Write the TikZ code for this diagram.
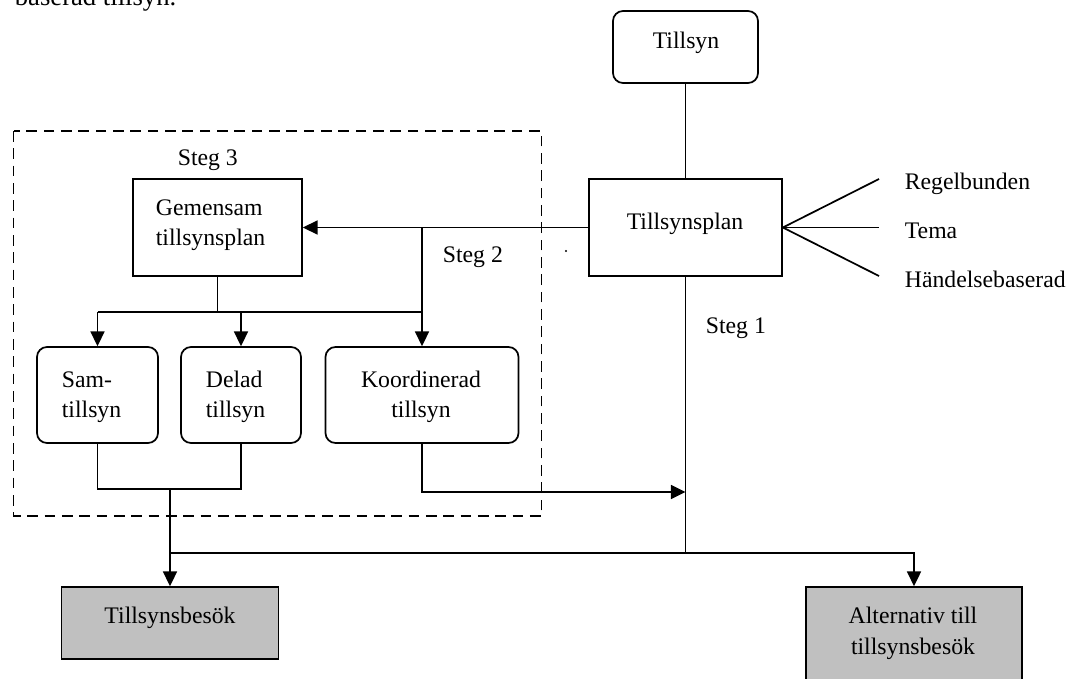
\documentclass[tikz,border=0pt]{standalone}
\usepackage{fontspec}
\setmainfont{Liberation Serif}
\usetikzlibrary{arrows.meta}
\definecolor{boxgray}{HTML}{C0C0C0}
\begin{document}
\begin{tikzpicture}[x=0.75pt,y=-0.75pt,
  line width=1.3pt,
  txt/.style={font=\fontsize{17.8}{22}\selectfont, inner sep=0pt, anchor=base},
  txtl/.style={txt, anchor=base west},
  sqbox/.style={draw, rectangle, inner sep=0pt, fill=white},
  rbox/.style={sqbox, rounded corners=7.5pt},
  gbox/.style={sqbox, fill=boxgray},
  arr/.style={-{Triangle[length=11pt,width=10.5pt]}},
  frame/.style={dashed, dash pattern=on 8pt off 5pt, line width=1.3pt}]
\useasboundingbox (0,0) rectangle (1074,678);

% caption line running off the top edge
\node[txtl, font=\fontsize{20}{24}\selectfont] (caption) at (14,5) {baserad tillsyn.};

% dashed frame around the joint planning steps
\draw[frame] (13.5,131) rectangle (541.5,516);

% boxes
\node[rbox, minimum width=108.75pt, minimum height=54pt] (tillsyn) at (685.5,47) {};
\node[sqbox, minimum width=144.75pt, minimum height=72.75pt] (plan) at (685.5,227.5) {};
\node[sqbox, minimum width=126.75pt, minimum height=72.75pt] (gem) at (217.5,227.5) {};
\node[rbox, minimum width=90.75pt, minimum height=72pt] (sam) at (97.5,395) {};
\node[rbox, minimum width=90pt, minimum height=72pt] (delad) at (241,395) {};
\node[rbox, minimum width=144.75pt, minimum height=72pt] (koord) at (422,395) {};
\node[gbox, minimum width=162.75pt, minimum height=54pt] (besok) at (170,623) {};
\node[gbox, minimum width=162pt, minimum height=81pt] (alt) at (914,641) {};

% box texts
\node[txt] (tTillsyn) at (686,48) {Tillsyn};
\node[txt] (tPlan) at (685,229) {Tillsynsplan};
\node[txtl] (tGem1) at (155,215) {Gemensam};
\node[txtl] (tGem2) at (155,245) {tillsynsplan};
\node[txtl] (tSam1) at (61,387) {Sam-};
\node[txtl] (tSam2) at (61,417) {tillsyn};
\node[txtl] (tDel1) at (205,387) {Delad};
\node[txtl] (tDel2) at (205,417) {tillsyn};
\node[txt] (tKoo1) at (421,387) {Koordinerad};
\node[txt] (tKoo2) at (421,417) {tillsyn};
\node[txt] (tBes) at (170,623) {Tillsynsbesök};
\node[txt] (tAlt1) at (913,623) {Alternativ till};
\node[txt] (tAlt2) at (913,654) {tillsynsbesök};

% step labels
\node[txtl] (steg3) at (177,165) {Steg 3};
\node[txtl] (steg2) at (442,262) {Steg 2};
\node[txtl] (steg1) at (705,333) {Steg 1};

% kinds of supervision plan
\coordinate (r1) at (879,179);
\coordinate (r2) at (879,227.5);
\coordinate (r3) at (879,276);
\node[txtl] (regel) at (904,189) {Regelbunden};
\node[txtl] (tema) at (904,238) {Tema};
\node[txtl] (handelse) at (904,287) {Händelsebaserad};
\draw (plan.east) -- (r1);
\draw (plan.east) -- (r2);
\draw (plan.east) -- (r3);

% stray dot
\fill (566,251) circle (0.8pt);

% junction points
\coordinate (br) at (422,227.5);
\coordinate (j1) at (217.5,312);
\coordinate (j2) at (170,489);
\coordinate (k1) at (685.5,492);
\coordinate (m) at (685.5,553);

% connectors
\draw (tillsyn) -- (plan);
\draw[arr] (plan.west) -- (gem.east);
\draw[arr] (br) -- (koord.north);
\draw (gem.south) -- (j1);
\draw (sam.north |- j1) -- (koord.north |- j1);
\draw[arr] (sam.north |- j1) -- (sam.north);
\draw[arr] (delad.north |- j1) -- (delad.north);
\draw (sam.south) -- (sam.south |- j2) -- (delad.south |- j2) -- (delad.south);
\draw[arr] (j2) -- (besok.north);
\draw[arr] (koord.south) |- (k1);
\draw (plan.south) -- (m);
\draw (besok.north |- m) -- (m);
\draw[arr] (m) -| (alt.north);
\end{tikzpicture}
\end{document}
